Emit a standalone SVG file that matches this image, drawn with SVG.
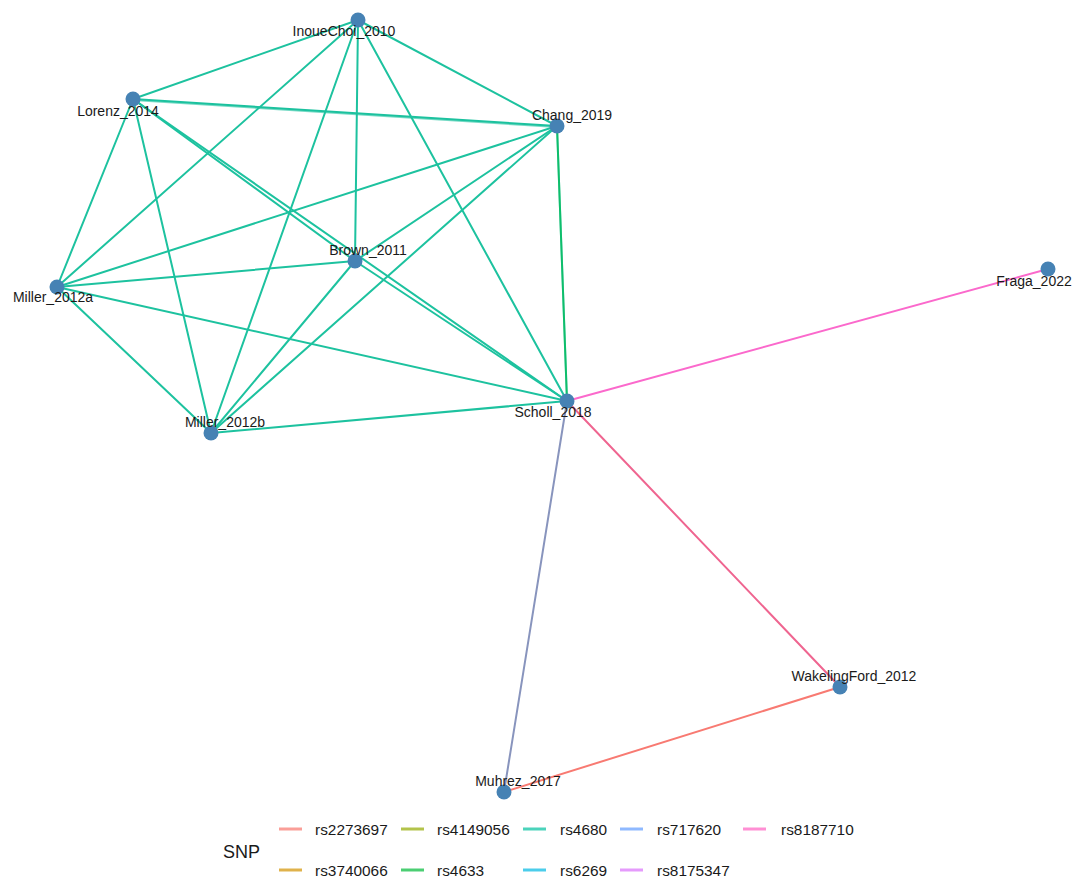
<svg xmlns="http://www.w3.org/2000/svg" width="1072" height="878" viewBox="0 0 1072 878">
<style>
.e{stroke-width:2;fill:none;stroke-linecap:round}
.t{stroke:#1dc29f}
.n circle{fill:#4682b4}
.n text,.lg text{font-family:"Liberation Sans",Arial,sans-serif;fill:#1a1a1a}
.n text{font-size:14px;text-anchor:middle}
.lg text{font-size:15.4px}
.k{stroke-width:3;opacity:0.7}
</style>
<rect width="1072" height="878" fill="#ffffff"/>
<g id="edges">
<line class="e t" x1="358" y1="20" x2="133" y2="99"/>
<line class="e t" x1="358" y1="20" x2="557" y2="126"/>
<line class="e t" x1="358" y1="20" x2="57" y2="287"/>
<line class="e t" x1="358" y1="20" x2="355" y2="261"/>
<line class="e t" x1="358" y1="20" x2="211" y2="433"/>
<line class="e t" x1="358" y1="20" x2="567" y2="401"/>
<line class="e t" x1="133" y1="99" x2="557" y2="126"/>
<line class="e t" x1="133" y1="100" x2="557" y2="127" stroke-opacity="0.6"/>
<line class="e t" x1="133" y1="99" x2="57" y2="287"/>
<line class="e t" x1="133" y1="99" x2="211" y2="433"/>
<line class="e t" x1="133" y1="99" x2="355" y2="261"/>
<line class="e t" x1="133" y1="99" x2="567" y2="401"/>
<line class="e t" x1="557" y1="126" x2="57" y2="287"/>
<line class="e t" x1="557" y1="126" x2="355" y2="261"/>
<line class="e t" x1="557" y1="126" x2="211" y2="433"/>
<line class="e t" x1="557" y1="126" x2="567" y2="401"/>
<line class="e" x1="557" y1="126" x2="567" y2="401" stroke="#00BA38" stroke-opacity="0.5"/>
<line class="e t" x1="355" y1="261" x2="57" y2="287"/>
<line class="e t" x1="355" y1="261" x2="211" y2="433"/>
<line class="e t" x1="355" y1="261" x2="567" y2="401"/>
<line class="e t" x1="57" y1="287" x2="211" y2="433"/>
<line class="e t" x1="57" y1="287" x2="567" y2="401"/>
<line class="e t" x1="211" y1="433" x2="567" y2="401"/>
<line class="e" x1="567" y1="401" x2="1048" y2="269" stroke="#fb69cc"/>
<line class="e" x1="567" y1="401" x2="840" y2="687" stroke="#ef6590"/>
<line class="e" x1="567" y1="401" x2="504" y2="792" stroke="#8894bd"/>
<line class="e" x1="840" y1="687" x2="504" y2="792" stroke="#f87a72"/>
</g>
<g id="node-InoueChoi_2010" class="n"><circle cx="358" cy="20" r="7.5"/><text x="344" y="36">InoueChoi_2010</text></g>
<g id="node-Lorenz_2014" class="n"><circle cx="133" cy="99" r="7.5"/><text x="118" y="116">Lorenz_2014</text></g>
<g id="node-Chang_2019" class="n"><circle cx="557" cy="126" r="7.5"/><text x="572" y="120">Chang_2019</text></g>
<g id="node-Brown_2011" class="n"><circle cx="355" cy="261" r="7.5"/><text x="368" y="255">Brown_2011</text></g>
<g id="node-Miller_2012a" class="n"><circle cx="57" cy="287" r="7.5"/><text x="53" y="302">Miller_2012a</text></g>
<g id="node-Miller_2012b" class="n"><circle cx="211" cy="433" r="7.5"/><text x="225" y="427">Miller_2012b</text></g>
<g id="node-Scholl_2018" class="n"><circle cx="567" cy="401" r="7.5"/><text x="553" y="417">Scholl_2018</text></g>
<g id="node-Fraga_2022" class="n"><circle cx="1048" cy="269" r="7.5"/><text x="1034" y="286">Fraga_2022</text></g>
<g id="node-WakelingFord_2012" class="n"><circle cx="840" cy="687" r="7.5"/><text x="854" y="681">WakelingFord_2012</text></g>
<g id="node-Muhrez_2017" class="n"><circle cx="504" cy="792" r="7.5"/><text x="518" y="786">Muhrez_2017</text></g>
<g id="legend" class="lg">
<text x="223" y="858" style="font-size:18px">SNP</text>
<line class="k" x1="279" y1="829" x2="302" y2="829" stroke="#F8766D"/><text x="315" y="834.5">rs2273697</text>
<line class="k" x1="401" y1="829" x2="424" y2="829" stroke="#93AA00"/><text x="437" y="834.5">rs4149056</text>
<line class="k" x1="523" y1="829" x2="546" y2="829" stroke="#00C19F"/><text x="560" y="834.5">rs4680</text>
<line class="k" x1="620" y1="829" x2="643" y2="829" stroke="#619CFF"/><text x="657" y="834.5">rs717620</text>
<line class="k" x1="743" y1="829" x2="766" y2="829" stroke="#FF61C3"/><text x="781" y="834.5">rs8187710</text>
<line class="k" x1="279" y1="870" x2="302" y2="870" stroke="#D39200"/><text x="315" y="875.5">rs3740066</text>
<line class="k" x1="401" y1="870" x2="424" y2="870" stroke="#00BA38"/><text x="437" y="875.5">rs4633</text>
<line class="k" x1="523" y1="870" x2="546" y2="870" stroke="#00B9E3"/><text x="560" y="875.5">rs6269</text>
<line class="k" x1="620" y1="870" x2="643" y2="870" stroke="#DB72FB"/><text x="657" y="875.5">rs8175347</text>
</g>
</svg>
